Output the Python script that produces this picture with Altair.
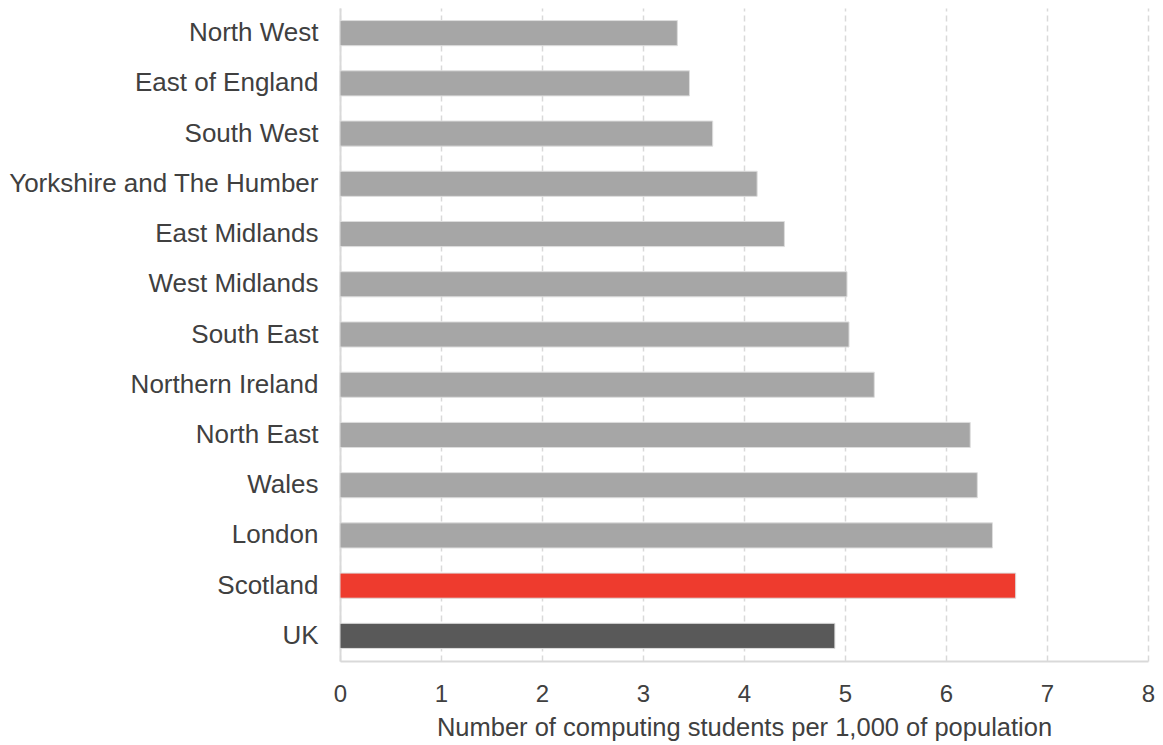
import altair as alt
import pandas as pd

regions = ["North West", "East of England", "South West", "Yorkshire and The Humber",
           "East Midlands", "West Midlands", "South East", "Northern Ireland",
           "North East", "Wales", "London", "Scotland", "UK"]
values = [3.34, 3.46, 3.69, 4.13, 4.40, 5.02, 5.04, 5.29, 6.24, 6.31, 6.46, 6.69, 4.90]
groups = ["Region"] * 11 + ["Scotland", "UK"]

df = pd.DataFrame({"region": regions, "value": values, "group": groups})

FONT = "Liberation Sans"
TXT = "#404040"

chart = alt.Chart(df).mark_bar(stroke="#DDDDDD", strokeWidth=1).encode(
    y=alt.Y("region:N", sort=regions,
            scale=alt.Scale(paddingInner=0.5, paddingOuter=0.25),
            axis=alt.Axis(title=None, labelFont=FONT, labelFontSize=26, labelColor=TXT,
                          labelPadding=22, ticks=False, domain=True,
                          domainColor="#D9D9D9", domainWidth=2, grid=False,
                          labelLimit=400)),
    x=alt.X("value:Q", scale=alt.Scale(domain=[0, 8], nice=False),
            axis=alt.Axis(title="Number of computing students per 1,000 of population",
                          titleFont=FONT, titleFontSize=25.5, titleColor=TXT,
                          titleFontWeight="normal", titlePadding=9,
                          labelFont=FONT, labelFontSize=24, labelColor=TXT,
                          labelPadding=21, labelFlush=False,
                          values=list(range(9)), format="d",
                          ticks=False, domainColor="#D9D9D9", domainWidth=2,
                          grid=True, gridColor="#D9D9D9", gridDash=[6, 4],
                          gridWidth=1.5)),
    color=alt.Color("group:N",
                    scale=alt.Scale(domain=["Region", "Scotland", "UK"],
                                    range=["#A6A6A6", "#EE3B2E", "#595959"]),
                    legend=None),
).properties(
    width=808, height=653,
    autosize=alt.AutoSizeParams(type="none"),
    padding={"left": 332, "top": 0, "right": 7, "bottom": 80},
).configure_view(stroke=None)

chart.save("out.html", embed_options={"renderer": "svg", "actions": False})
